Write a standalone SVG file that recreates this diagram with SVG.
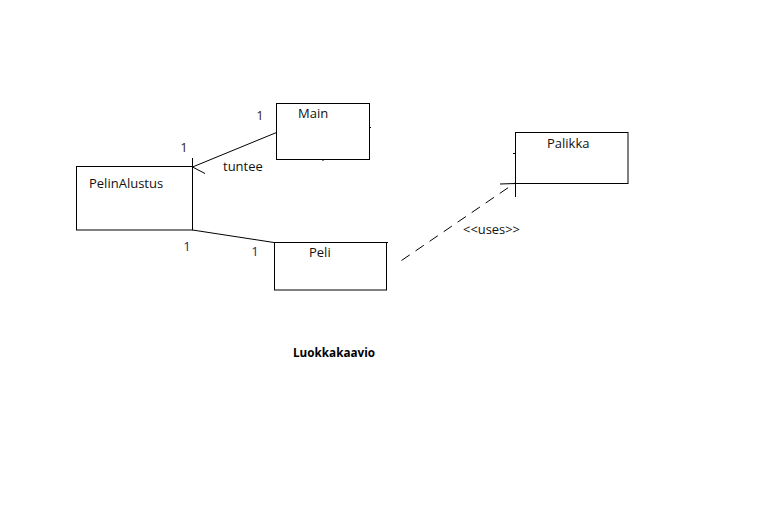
<svg xmlns="http://www.w3.org/2000/svg" width="768" height="507" viewBox="0 0 768 507">
<style>
.box{fill:#fff;stroke:#000;stroke-width:1}
.ln{fill:none;stroke:#000;stroke-width:1}
.t{font-family:"Open Sans","Noto Sans","Liberation Sans",sans-serif;font-size:13px;fill:#111}
.m1{fill:#3a1e00}
.m2{fill:#0a3560}
.b{font-weight:bold;fill:#000}
</style>
<rect width="768" height="507" fill="#fff"/>
<g id="connectors">
<polyline class="ln" points="276.5,132.5 192.5,167 205,173.5"/>
<line class="ln" x1="192.5" y1="158" x2="192.5" y2="166"/>
<line class="ln" x1="192.5" y1="230" x2="274" y2="242.5"/>
<line class="ln" x1="401.5" y1="260.5" x2="515" y2="183" stroke-dasharray="10,7"/>
<line class="ln" x1="500" y1="184" x2="515" y2="183.5"/>
<line class="ln" x1="515.5" y1="183" x2="515.5" y2="197"/>
</g>
<g id="Main">
<rect class="box" x="276.5" y="103.5" width="93" height="56"/>
<line class="ln" x1="369" y1="127.5" x2="371" y2="127.5"/>
<line class="ln" x1="323" y1="159.5" x2="323" y2="161"/>
<text class="t" x="298" y="118">Main</text>
</g>
<g id="PelinAlustus">
<rect class="box" x="76.5" y="166.5" width="116" height="63.5"/>
<text class="t" x="89" y="188">PelinAlustus</text>
</g>
<g id="Peli">
<rect class="box" x="274.5" y="242.5" width="112" height="47.5"/>
<line class="ln" x1="386" y1="242.5" x2="388" y2="242.5"/>
<text class="t" x="309" y="257">Peli</text>
</g>
<g id="Palikka">
<rect class="box" x="515.5" y="132.5" width="112.5" height="51"/>
<line class="ln" x1="513" y1="153.5" x2="515" y2="153.5"/>
<text class="t" x="547" y="148">Palikka</text>
</g>
<g id="labels">
<text class="t m1" x="260" y="120" text-anchor="middle">1</text>
<text class="t m1" x="184" y="152" text-anchor="middle">1</text>
<text class="t" x="223" y="171">tuntee</text>
<text class="t m2" x="187" y="251" text-anchor="middle">1</text>
<text class="t m2" x="255" y="256" text-anchor="middle">1</text>
<text class="t" x="463" y="234" style="font-size:12.5px" textLength="57" lengthAdjust="spacingAndGlyphs">&lt;&lt;uses&gt;&gt;</text>
<text class="t b" x="293" y="357" style="font-size:12.5px" textLength="82" lengthAdjust="spacingAndGlyphs">Luokkakaavio</text>
</g>
</svg>
